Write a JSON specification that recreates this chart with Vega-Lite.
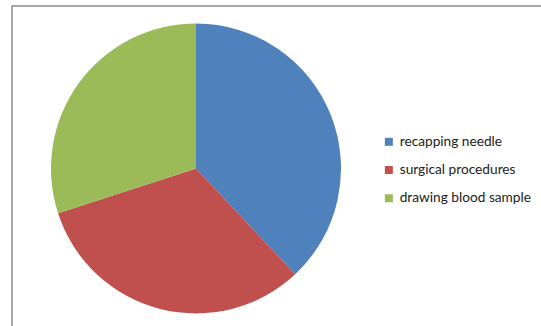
{
  "$schema": "https://vega.github.io/schema/vega-lite/v6.json",
  "width": 535,
  "height": 325,
  "padding": {"left": 12, "top": 6, "right": 0, "bottom": 0},
  "autosize": "none",
  "background": "white",
  "view": {"stroke": "#8c8c8c", "strokeWidth": 1.5, "fill": "white"},
  "config": {
    "font": "Lato"
  },
  "data": {
    "values": [
      {"cause": "recapping needle", "share": 38, "rank": 1},
      {"cause": "surgical procedures", "share": 32, "rank": 2},
      {"cause": "drawing blood sample", "share": 30, "rank": 3}
    ]
  },
  "mark": {"type": "arc", "radius": 145, "x": 184, "y": 162.5},
  "encoding": {
    "theta": {"field": "share", "type": "quantitative", "stack": true},
    "order": {"field": "rank", "type": "quantitative"},
    "color": {
      "field": "cause",
      "type": "nominal",
      "sort": ["recapping needle", "surgical procedures", "drawing blood sample"],
      "scale": {
        "domain": ["recapping needle", "surgical procedures", "drawing blood sample"],
        "range": ["#4f81bd", "#c0504d", "#9bbb59"]
      },
      "legend": {
        "title": null,
        "orient": "none",
        "legendX": 370,
        "legendY": 129,
        "padding": 0,
        "symbolType": "square",
        "symbolSize": 64,
        "symbolStrokeWidth": 0,
        "labelFont": "Lato",
        "labelFontSize": 13.7,
        "labelColor": "#222222",
        "labelOffset": 4,
        "rowPadding": 13.2
      }
    }
  }
}
